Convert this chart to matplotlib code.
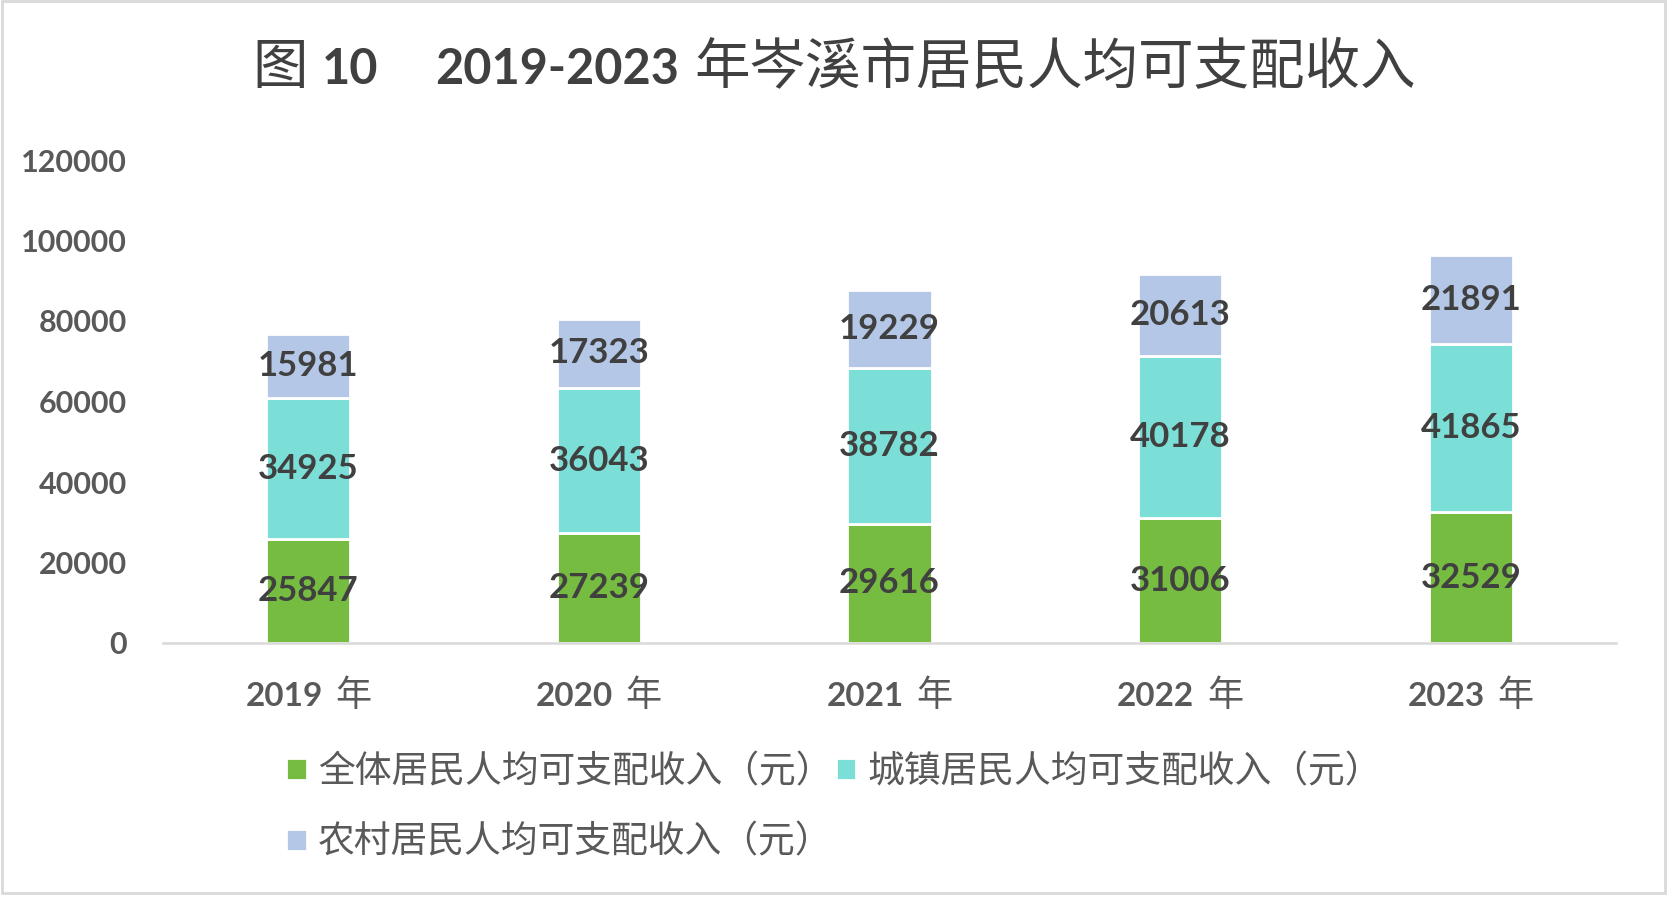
import matplotlib
matplotlib.use('Agg')
import matplotlib.pyplot as plt
from matplotlib.patches import Rectangle
from matplotlib.offsetbox import TextArea, HPacker, DrawingArea, AnnotationBbox

# === DATA ===
years = ['2019', '2020', '2021', '2022', '2023']
all_income = [25847, 27239, 29616, 31006, 32529]
urban_income = [34925, 36043, 38782, 40178, 41865]
rural_income = [15981, 17323, 19229, 20613, 21891]
series_names = ['全体居民人均可支配收入（元）', '城镇居民人均可支配收入（元）', '农村居民人均可支配收入（元）']
y_ticks = [0, 20000, 40000, 60000, 80000, 100000, 120000]

# === STYLE ===
colors = ['#76BC41', '#7BDFD7', '#B4C7E7']
CJK = 'Noto Sans CJK SC'
NUM = 'Lato'
dark = '#404040'
gray = '#595959'
line_gray = '#D9D9D9'

W, H = 1668, 901
fig = plt.figure(figsize=(W / 100, H / 100), dpi=100)
ax = fig.add_axes([163 / W, 1 - 643 / H, (1616 - 163) / W, (643 - 160) / H])

x = list(range(len(years)))
bottoms = [0] * len(years)
containers = []
for vals, c, name in zip([all_income, urban_income, rural_income], colors, series_names):
    bc = ax.bar(x, vals, width=0.29, bottom=bottoms, color=c, edgecolor='white', linewidth=2, label=name)
    ax.bar_label(bc, label_type='center', fontsize=25, fontweight='bold', color=dark, fontfamily=NUM)
    containers.append(bc)
    bottoms = [b + v for b, v in zip(bottoms, vals)]

ax.set_xlim(-0.5, len(years) - 0.5)
ax.set_ylim(0, 120000)
ax.set_yticks(y_ticks)
ax.set_yticklabels([str(t) for t in y_ticks], fontsize=22, fontweight='bold', color=gray, fontfamily=NUM)
ax.tick_params(axis='y', length=0, pad=26)
ax.set_xticks(x)
ax.set_xticklabels([''] * len(years))
ax.tick_params(axis='x', length=0)
for s in ['top', 'right', 'left']:
    ax.spines[s].set_visible(False)
ax.spines['bottom'].set_color(line_gray)
ax.spines['bottom'].set_linewidth(1.8)


def run(text, family, size, weight='normal', color=dark):
    return TextArea(text, textprops=dict(fontfamily=family, fontsize=size, fontweight=weight, color=color))


def gap(pts):
    return DrawingArea(pts, 0)


# x tick labels: bold number + regular 年
for i, yr in enumerate(years):
    box = HPacker(children=[run(yr, NUM, 24, 'bold', gray), gap(9), run('年', CJK, 26, 'normal', gray)],
                  align='baseline', pad=0, sep=0)
    ab = AnnotationBbox(box, (i, 0), xycoords=ax.get_xaxis_transform(), xybox=(0, -38),
                        boxcoords='offset points', box_alignment=(0.5, 0.5), frameon=False)
    ax.add_artist(ab)

# title
title_box = HPacker(children=[run('图', CJK, 40), gap(10), run('10', NUM, 35, 'bold'), gap(41),
                              run('2019-2023', NUM, 35, 'bold'), gap(11),
                              run('年岑溪市居民人均可支配收入', CJK, 40)],
                    align='baseline', pad=0, sep=0)
fig.add_artist(AnnotationBbox(title_box, (0.5, 1 - 68 / H), xycoords='figure fraction',
                              box_alignment=(0.5, 0.5), frameon=False))

# legend, row-major order
leg = fig.legend([containers[0], containers[2], containers[1]],
                 [series_names[0], series_names[2], series_names[1]],
                 ncol=2, loc='upper center', bbox_to_anchor=(0.5, 1 - 734 / H), frameon=False,
                 prop={'family': CJK, 'size': 26.5}, labelcolor=gray,
                 handlelength=0.55, handleheight=0.55, handletextpad=0.3, columnspacing=0.1,
                 labelspacing=0.85, borderpad=0)

# outer border
fig.patches.append(Rectangle((2 / W, 1 - 893 / H), (1665 - 2) / W, (893 - 1) / H, transform=fig.transFigure,
                             fill=False, edgecolor=line_gray, linewidth=2))

plt.savefig('out.png', dpi=100)
